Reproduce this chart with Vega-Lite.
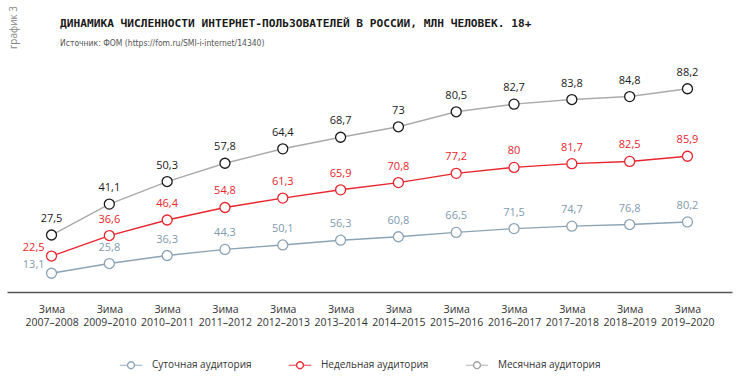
{
  "$schema": "https://vega.github.io/schema/vega-lite/v6.json",
  "width": 725,
  "height": 232,
  "autosize": "none",
  "padding": {"left": 7, "top": 60, "right": 18, "bottom": 94},
  "background": "white",
  "config": {
    "view": {"stroke": null},
    "locale": {"number": {"decimal": ",", "thousands": " ", "grouping": [3], "currency": ["", ""]}}
  },
  "title": {
    "text": "ДИНАМИКА ЧИСЛЕННОСТИ ИНТЕРНЕТ-ПОЛЬЗОВАТЕЛЕЙ В РОССИИ, МЛН ЧЕЛОВЕК. 18+",
    "subtitle": "Источник: ФОМ (https://fom.ru/SMI-i-internet/14340)",
    "anchor": "start",
    "frame": "group",
    "dx": 53,
    "offset": -42,
    "font": "DejaVu Sans Mono",
    "fontSize": 11.2,
    "fontWeight": "bold",
    "color": "#1a1a1a",
    "subtitleFont": "Liberation Sans Narrow, DejaVu Sans Condensed",
    "subtitleFontSize": 8.5,
    "subtitleColor": "#555555",
    "subtitlePadding": 10
  },
  "data": {
    "values": [
      {"season": "2007–2008", "series": "Суточная аудитория", "value": 13.1},
      {"season": "2009–2010", "series": "Суточная аудитория", "value": 25.8},
      {"season": "2010–2011", "series": "Суточная аудитория", "value": 36.3},
      {"season": "2011–2012", "series": "Суточная аудитория", "value": 44.3},
      {"season": "2012–2013", "series": "Суточная аудитория", "value": 50.1},
      {"season": "2013–2014", "series": "Суточная аудитория", "value": 56.3},
      {"season": "2014–2015", "series": "Суточная аудитория", "value": 60.8},
      {"season": "2015–2016", "series": "Суточная аудитория", "value": 66.5},
      {"season": "2016–2017", "series": "Суточная аудитория", "value": 71.5},
      {"season": "2017–2018", "series": "Суточная аудитория", "value": 74.7},
      {"season": "2018–2019", "series": "Суточная аудитория", "value": 76.8},
      {"season": "2019–2020", "series": "Суточная аудитория", "value": 80.2},
      {"season": "2007–2008", "series": "Недельная аудитория", "value": 22.5},
      {"season": "2009–2010", "series": "Недельная аудитория", "value": 36.6},
      {"season": "2010–2011", "series": "Недельная аудитория", "value": 46.4},
      {"season": "2011–2012", "series": "Недельная аудитория", "value": 54.8},
      {"season": "2012–2013", "series": "Недельная аудитория", "value": 61.3},
      {"season": "2013–2014", "series": "Недельная аудитория", "value": 65.9},
      {"season": "2014–2015", "series": "Недельная аудитория", "value": 70.8},
      {"season": "2015–2016", "series": "Недельная аудитория", "value": 77.2},
      {"season": "2016–2017", "series": "Недельная аудитория", "value": 80},
      {"season": "2017–2018", "series": "Недельная аудитория", "value": 81.7},
      {"season": "2018–2019", "series": "Недельная аудитория", "value": 82.5},
      {"season": "2019–2020", "series": "Недельная аудитория", "value": 85.9},
      {"season": "2007–2008", "series": "Месячная аудитория", "value": 27.5},
      {"season": "2009–2010", "series": "Месячная аудитория", "value": 41.1},
      {"season": "2010–2011", "series": "Месячная аудитория", "value": 50.3},
      {"season": "2011–2012", "series": "Месячная аудитория", "value": 57.8},
      {"season": "2012–2013", "series": "Месячная аудитория", "value": 64.4},
      {"season": "2013–2014", "series": "Месячная аудитория", "value": 68.7},
      {"season": "2014–2015", "series": "Месячная аудитория", "value": 73},
      {"season": "2015–2016", "series": "Месячная аудитория", "value": 80.5},
      {"season": "2016–2017", "series": "Месячная аудитория", "value": 82.7},
      {"season": "2017–2018", "series": "Месячная аудитория", "value": 83.8},
      {"season": "2018–2019", "series": "Месячная аудитория", "value": 84.8},
      {"season": "2019–2020", "series": "Месячная аудитория", "value": 88.2}
    ]
  },
  "transform": [
    {"stack": "value", "groupby": ["season"], "sort": [{"field": "series", "order": "descending"}], "as": ["y0", "y1"]}
  ],
  "encoding": {
    "x": {
      "field": "season",
      "type": "ordinal",
      "sort": null,
      "scale": {"type": "point", "padding": 0.77},
      "axis": {
        "title": null,
        "labelAngle": 0,
        "ticks": false,
        "grid": false,
        "domainColor": "#555555",
        "domainWidth": 1.6,
        "labelPadding": 12,
        "labelFont": "Open Sans",
        "labelFontSize": 10.5,
        "labelColor": "#333333",
        "labelLineHeight": 13,
        "labelBaseline": "top",
        "labelExpr": "['Зима', datum.label]"
      }
    },
    "y": {
      "field": "y1",
      "type": "quantitative",
      "scale": {"domain": [-11.4, 291.9], "zero": false, "nice": false},
      "axis": {
        "labels": false,
        "ticks": false,
        "domain": false,
        "grid": false,
        "title": "график 3",
        "titleFont": "Open Sans",
        "titleFontSize": 10,
        "titleFontWeight": "normal",
        "titleColor": "#888888",
        "titleX": 6,
        "titleY": -33,
        "titleAngle": 270,
        "titleAlign": "center",
        "titleBaseline": "middle"
      }
    }
  },
  "layer": [
    {
      "mark": {"type": "line", "strokeWidth": 1.4},
      "encoding": {
        "color": {
          "field": "series",
          "type": "nominal",
          "scale": {
            "domain": ["Суточная аудитория", "Недельная аудитория", "Месячная аудитория"],
            "range": ["#8ca3b5", "#e8242c", "#aaaaaa"]
          },
          "legend": {
            "title": null,
            "orient": "none",
            "legendX": 119,
            "legendY": 300,
            "direction": "horizontal",
            "symbolType": "M-3.2,0L-1.05,0M1.05,0L3.2,0M-1.05,0A1.05,1.05,0,1,1,1.05,0A1.05,1.05,0,1,1,-1.05,0ZM-0.92,0A0.92,0.92,0,1,0,0.92,0A0.92,0.92,0,1,0,-0.92,0Z",
            "symbolSize": 49,
            "symbolStrokeWidth": 0.9,
            "symbolFillColor": "white",
            "labelFont": "Open Sans",
            "labelFontSize": 10,
            "labelColor": "#333333",
            "labelOffset": 16,
            "columnPadding": 34,
            "encode": {
              "symbols": {
                "update": {
                  "stroke": {"signal": "datum.value == 'Месячная аудитория' ? '#444444' : scale('color', datum.value)"}
                }
              }
            }
          }
        }
      }
    },
    {
      "mark": {"type": "point", "shape": "circle", "size": 100, "fill": "white", "fillOpacity": 1, "strokeWidth": 1.3, "opacity": 1},
      "encoding": {
        "stroke": {
          "field": "series",
          "type": "nominal",
          "scale": {
            "domain": ["Суточная аудитория", "Недельная аудитория", "Месячная аудитория"],
            "range": ["#8ca3b5", "#e8242c", "#1a1a1a"]
          },
          "legend": null
        }
      }
    },
    {
      "transform": [{"filter": "datum.season != '2007–2008' || datum.series == 'Месячная аудитория'"}],
      "mark": {"type": "text", "dy": -16, "font": "Open Sans", "fontSize": 11, "baseline": "middle"},
      "encoding": {
        "text": {"field": "value", "type": "quantitative", "format": "~g"},
        "fill": {
          "field": "series",
          "type": "nominal",
          "scale": {
            "domain": ["Суточная аудитория", "Недельная аудитория", "Месячная аудитория"],
            "range": ["#7f9aae", "#e8242c", "#1a1a1a"]
          },
          "legend": null
        }
      }
    },
    {
      "transform": [{"filter": "datum.season == '2007–2008' && datum.series != 'Месячная аудитория'"}],
      "mark": {"type": "text", "dx": -7, "dy": -8, "align": "right", "font": "Open Sans", "fontSize": 11, "baseline": "middle"},
      "encoding": {
        "text": {"field": "value", "type": "quantitative", "format": "~g"},
        "fill": {
          "field": "series",
          "type": "nominal",
          "scale": {
            "domain": ["Суточная аудитория", "Недельная аудитория", "Месячная аудитория"],
            "range": ["#7f9aae", "#e8242c", "#1a1a1a"]
          },
          "legend": null
        }
      }
    }
  ]
}
